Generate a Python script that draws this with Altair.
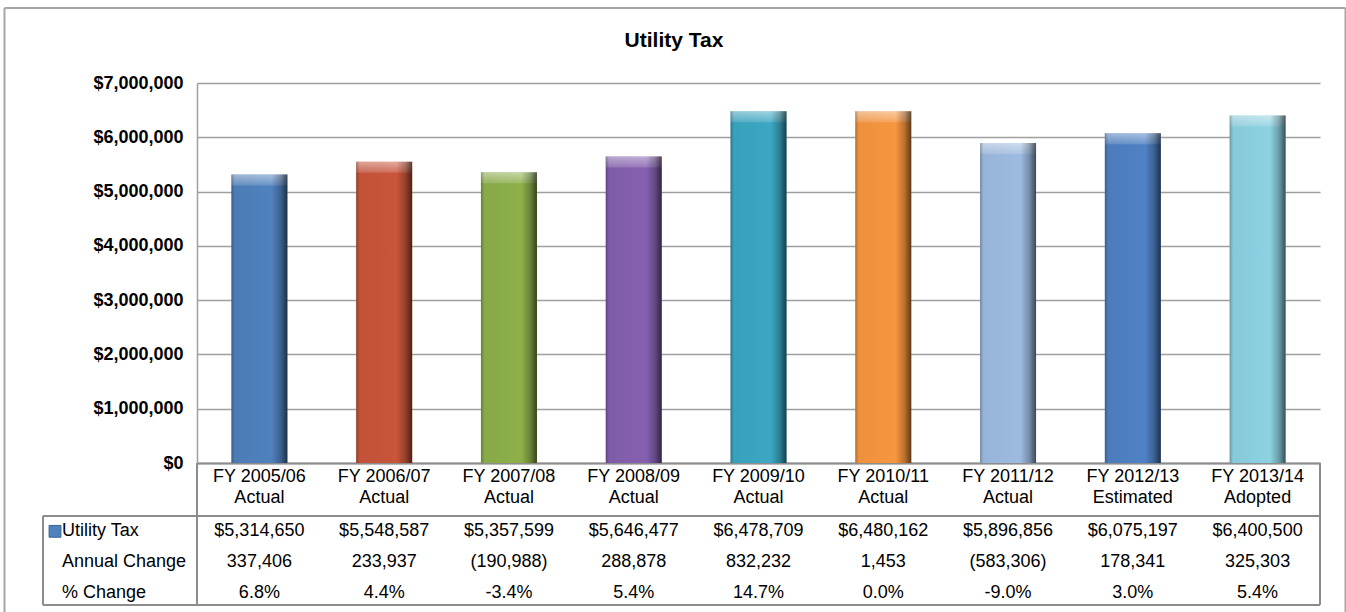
import altair as alt
import pandas as pd

FONT = "Liberation Sans"

# ---- data ----
years = ["FY 2005/06", "FY 2006/07", "FY 2007/08", "FY 2008/09", "FY 2009/10",
         "FY 2010/11", "FY 2011/12", "FY 2012/13", "FY 2013/14"]
status = ["Actual", "Actual", "Actual", "Actual", "Actual", "Actual", "Actual",
          "Estimated", "Adopted"]
utility_tax = [5314650, 5548587, 5357599, 5646477, 6478709, 6480162, 5896856,
               6075197, 6400500]
annual_change = [337406, 233937, -190988, 288878, 832232, 1453, -583306,
                 178341, 325303]
pct_change = [6.8, 4.4, -3.4, 5.4, 14.7, 0.0, -9.0, 3.0, 5.4]
bar_colors = ["#4F81BD", "#C9553A", "#8DB04A", "#8560AF", "#3BA7C2",
              "#F7963F", "#9DBBE1", "#4F81C4", "#8CD2E2"]
row_labels = ["Utility Tax", "Annual Change", "% Change"]
y_ticks = [0, 1000000, 2000000, 3000000, 4000000, 5000000, 6000000, 7000000]
title_text = "Utility Tax"

cats = [f"{y}|{s}" for y, s in zip(years, status)]
bars_df = pd.DataFrame({"cat": cats, "value": utility_tax})


def fmt_change(v):
    return f"{v:,}" if v >= 0 else f"({-v:,})"


rows = []
for c, v, a, p in zip(cats, utility_tax, annual_change, pct_change):
    rows.append({"cat": c, "row": row_labels[0], "text": f"${v:,}"})
    rows.append({"cat": c, "row": row_labels[1], "text": fmt_change(a)})
    rows.append({"cat": c, "row": row_labels[2], "text": f"{p:.1f}%"})
table_df = pd.DataFrame(rows)
label_df = pd.DataFrame({"row": row_labels})
deco = pd.DataFrame({"k": [0]})

GRID = "#a0a0a0"
LINE = "#8c8c8c"

x_enc = alt.X(
    "cat:N",
    sort=cats,
    scale=alt.Scale(domain=cats, paddingInner=0, paddingOuter=0),
    axis=alt.Axis(
        title=None, ticks=False, labelAngle=0, labelPadding=4,
        labelExpr="split(datum.label, '|')", labelFont=FONT, labelFontSize=18,
        labelLineHeight=21, labelBaseline="top", labelColor="black",
        domainColor=LINE, domainWidth=2, grid=False,
    ),
)

y_enc = alt.Y(
    "value:Q",
    scale=alt.Scale(domain=[0, 7000000], nice=False),
    axis=alt.Axis(
        title=None, values=y_ticks, format="$,.0f", ticks=False,
        labelPadding=14, labelFont=FONT, labelFontSize=18, labelFontWeight="bold",
        labelColor="black", grid=True, gridColor=GRID, gridWidth=1.5,
        domainColor=GRID, domainWidth=1.5,
    ),
)

base = alt.Chart(bars_df)
bars = base.mark_bar(size=56).encode(
    x=x_enc, y=y_enc,
    color=alt.Color("cat:N", scale=alt.Scale(domain=cats, range=bar_colors), legend=None),
)
bevel = base.mark_tick(
    size=56, thickness=11, yOffset=5.5, opacity=1, filled=True,
    color=alt.Gradient(
        gradient="linear", x1=0, x2=0, y1=0, y2=1,
        stops=[alt.GradientStop(color="rgba(255,255,255,0.5)", offset=0),
               alt.GradientStop(color="rgba(255,255,255,0.15)", offset=1)],
    ),
).encode(x=x_enc, y=y_enc)
shade = base.mark_bar(
    size=56,
    color=alt.Gradient(
        gradient="linear", x1=0, x2=1, y1=0, y2=0,
        stops=[alt.GradientStop(color="rgba(0,0,0,0.28)", offset=0),
               alt.GradientStop(color="rgba(0,0,0,0.04)", offset=0.06),
               alt.GradientStop(color="rgba(0,0,0,0)", offset=0.72),
               alt.GradientStop(color="rgba(0,0,0,0.25)", offset=0.88),
               alt.GradientStop(color="rgba(0,0,0,0.62)", offset=1)],
    ),
).encode(x=x_enc, y=y_enc)
bar_group = alt.layer(bars, bevel, shade)

row_y = alt.Y("row:N", sort=row_labels,
              scale=alt.Scale(domain=row_labels, range=[433, 525], paddingInner=0, paddingOuter=0),
              axis=None)
cells = alt.Chart(table_df).mark_text(
    font=FONT, fontSize=18, color="black", baseline="middle", align="center"
).encode(x=x_enc, y=row_y, text="text:N")
labels = alt.Chart(label_df).mark_text(
    font=FONT, fontSize=18, color="black", baseline="middle", align="left"
).encode(x=alt.value(-135), y=row_y, text="row:N")
legend_sq = alt.Chart(label_df).transform_filter(
    alt.datum.row == row_labels[0]
).mark_square(size=140, filled=True, color="#4F81BD", opacity=1,
              stroke="#3a6599", strokeWidth=1).encode(
    x=alt.value(-142), y=row_y
)
table_group = alt.layer(cells, labels, legend_sq)


def rule(**kw):
    sw = kw.pop("sw", 2)
    col = kw.pop("col", LINE)
    return alt.Chart(deco).mark_rule(color=col, strokeWidth=sw).encode(**{k: alt.value(v) for k, v in kw.items()})


borders = [
    rule(x=-154, x2=1123, y=433),
    rule(x=-154, x2=1123, y=522),
    rule(x=-154, y=433, y2=522),
    rule(x=0, y=380, y2=522),
    rule(x=1123, y=380, y2=522),
    # outer chart frame
    rule(x=-192.5, y=-75, y2=540, col="#a6a6a6"),
    rule(x=-192.5, x2=1148.5, y=-75, col="#a6a6a6"),
    rule(x=1148.5, y=-75, y2=540, col="#a6a6a6"),
]

title = alt.Chart(deco).mark_text(
    text=title_text, font=FONT, fontSize=21, fontWeight="bold", color="black",
    align="center", baseline="middle",
).encode(x=alt.value(477), y=alt.value(-42))

chart = alt.layer(bar_group, table_group, title, *borders).resolve_scale(
    y="independent"
).properties(
    width=1123, height=380,
    padding={"left": 197, "top": 83, "right": 26, "bottom": 149},
    autosize=alt.AutoSizeParams(type="none"),
    background="white",
).configure_view(stroke=None)

chart.save("out.html", embed_options={"renderer": "svg", "actions": False})
